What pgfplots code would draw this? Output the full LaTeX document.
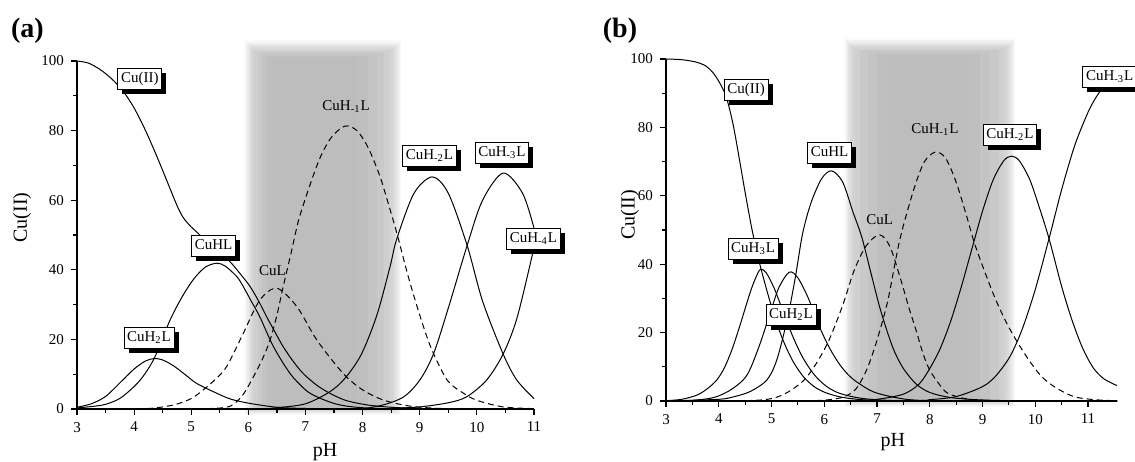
\documentclass[border=0pt]{standalone}
\usepackage{fontspec}
\setmainfont{Liberation Serif}
\usepackage{pgfplots}
\pgfplotsset{compat=1.18}
\usetikzlibrary{shadows}

\pgfplotsset{
  myax/.style={
    scale only axis,
    axis lines=left,
    axis line style={-, line width=0.75pt},
    tick align=outside,
    ymin=0, ymax=100,
    ytick={0,20,...,100},
    minor y tick num=1,
    xtick={3,...,11},
    minor x tick num=1,
    major tick length=3pt, minor tick length=1.8pt,
    tick style={black, line width=0.6pt},
    ticklabel style={font=\fontsize{7.5}{9}\selectfont},
    /pgf/number format/assume math mode=true,
    xlabel={pH}, ylabel={Cu(II)},
    label style={font=\fontsize{8.7}{10}\selectfont},
    axis on top,
    clip=false,
    cycle list={{black, mark=none}},
    every axis plot/.append style={black, line width=0.5pt, smooth, mark=none},
  },
}
\tikzset{
  lbl/.style={draw=black, line width=0.4pt, fill=white, inner xsep=1.6pt, inner ysep=1.8pt,
    text height=5.3pt, text depth=1.6pt, font=\fontsize{7.5}{9}\selectfont,
    drop shadow={shadow xshift=2.3pt, shadow yshift=-2.3pt, fill=black, opacity=1}},
  txt/.style={inner sep=0pt, font=\fontsize{7.5}{9}\selectfont},
  dsh/.style={dash pattern=on 3pt off 2pt},
}

\begin{document}
\begin{tikzpicture}[x=1pt,y=1pt]

% ---------------- panel (a) ----------------
\begin{axis}[myax,
  at={(38.5pt,-204.5pt)}, anchor=south west,
  width=228.5pt, height=174pt,
  xmin=3, xmax=11,
  every axis y label/.style={at={(axis description cs:-0.12,0.55)}, rotate=90, anchor=center},
  every axis x label/.style={at={(axis description cs:0.543,-0.124)}, anchor=center},
]
\fill[black!2]  (axis cs:5.930,-1.8) rectangle (axis cs:8.680,106);
\fill[black!5]  (axis cs:5.955,-1.5) rectangle (axis cs:8.655,105.5);
\fill[black!8]  (axis cs:5.980,-1.2) rectangle (axis cs:8.630,105);
\fill[black!11] (axis cs:6.005,-0.9) rectangle (axis cs:8.600,104.5);
\fill[black!14] (axis cs:6.030,-0.6) rectangle (axis cs:8.570,104);
\fill[black!17] (axis cs:6.060,-0.4) rectangle (axis cs:8.530,103.5);
\fill[black!19] (axis cs:6.100,-0.2) rectangle (axis cs:8.470,103);
\fill[black!21] (axis cs:6.160,0) rectangle (axis cs:8.380,102.5);
\fill[black!23] (axis cs:6.240,0) rectangle (axis cs:8.250,102);
\fill[black!25] (axis cs:6.330,0) rectangle (axis cs:8.100,101.5);
\fill[black!26] (axis cs:6.430,0) rectangle (axis cs:7.900,101);

% Cu(II)
\addplot[black] coordinates {(3.0,100)(3.2,99.4)(3.4,97.6)(3.6,95)(3.8,91.5)(4.0,86.5)(4.2,80)(4.4,72.5)(4.6,64.5)(4.75,58.5)(4.86,55)(5.0,52.3)(5.12,50.5)(5.3,47.2)(5.5,44.8)(5.68,42.3)(5.85,39)(6.03,35.2)(6.18,31)(6.32,26.5)(6.47,22)(6.61,17.9)(6.78,13.8)(6.96,10.2)(7.2,6.8)(7.43,4.5)(7.7,2.5)(8.07,1.2)(8.5,0.5)(9,0.15)(9.5,0)(11,0)};
% CuH2L
\addplot[black] coordinates {(3.0,0.5)(3.25,1.5)(3.5,3.6)(3.75,7.5)(4.0,11.5)(4.2,13.8)(4.35,14.5)(4.5,14.1)(4.7,12.3)(4.9,9.8)(5.1,7.3)(5.45,4.5)(5.7,2.8)(6.03,1.6)(6.5,0.5)(7.0,0.15)(8.0,0)(11,0)};
% CuHL
\addplot[black] coordinates {(3.0,0.3)(3.4,1.0)(3.6,1.9)(3.8,3.6)(4.1,8.2)(4.35,14.5)(4.63,25.6)(4.85,32.5)(5.05,37.5)(5.25,40.8)(5.45,41.9)(5.6,41)(5.8,38)(5.91,35.2)(6.05,31)(6.2,26.5)(6.44,17.9)(6.73,10.2)(7.0,5.5)(7.2,3.5)(7.5,1.6)(7.78,0.7)(8.2,0.2)(9,0)(11,0)};
% CuL
\addplot[dsh] coordinates {(3.0,0)(3.8,0)(4.3,0.2)(4.7,1.2)(5.0,3)(5.21,5.5)(5.42,8.5)(5.62,12.2)(5.91,21.7)(6.2,31.3)(6.5,34.7)(6.85,29.4)(7.2,19.8)(7.66,10.2)(8.0,5.5)(8.36,2.6)(8.8,0.9)(9.3,0.2)(10,0)(11,0)};
% CuH-1L
\addplot[dsh] coordinates {(3,0)(4.8,0)(5.3,0.1)(5.68,0.8)(5.9,4)(6.09,9.3)(6.25,14.5)(6.38,19.8)(6.5,27)(6.61,35.2)(6.75,45)(6.88,54.3)(7.05,63)(7.25,72)(7.45,78)(7.69,81.3)(7.9,80)(8.1,75)(8.3,67)(8.45,59)(8.6,50.5)(8.8,38)(9.0,27)(9.2,17.5)(9.48,8.3)(9.76,4.6)(10.0,2.5)(10.46,0.6)(11,0.1)};
% CuH-2L
\addplot[black] coordinates {(3,0)(6.0,0)(6.5,0.4)(7.0,1.5)(7.43,5.0)(7.7,9)(7.98,15.8)(8.25,27)(8.48,40.9)(8.6,49)(8.9,62)(9.22,66.7)(9.5,62)(9.83,47)(10.1,31)(10.46,15.8)(10.7,8.3)(11.0,3.0)};
% CuH-3L
\addplot[black] coordinates {(3,0)(7.5,0)(8.2,0.6)(8.7,3.3)(9.0,8.3)(9.24,15.8)(9.5,29)(9.83,47)(10.1,60)(10.46,67.8)(10.8,62)(11.0,52)};
% CuH-4L
\addplot[black] coordinates {(3,0)(8.0,0)(8.5,0.2)(9.0,0.6)(9.5,1.8)(9.82,3.5)(10.17,8.3)(10.46,15.8)(10.7,26)(10.96,43.5)(11.0,46.5)};

\node[lbl] at (axis cs:4.10,94.8) {Cu(II)};
\node[lbl] at (axis cs:5.39,46.8) {CuHL};
\node[lbl] at (axis cs:4.26,20.5) {CuH\textsubscript{2}L};
\node[txt] at (axis cs:6.42,39.7) {CuL};
\node[txt] at (axis cs:7.71,86.8) {CuH\textsubscript{-1}L};
\node[lbl] at (axis cs:9.17,72.7) {CuH\textsubscript{-2}L};
\node[lbl] at (axis cs:10.44,73.6) {CuH\textsubscript{-3}L};
\node[lbl] at (axis cs:10.99,49) {CuH\textsubscript{-4}L};
\end{axis}

% ---------------- panel (b) ----------------
\begin{axis}[myax,
  at={(333pt,-200.5pt)}, anchor=south west,
  width=225.5pt, height=171pt,
  xmin=3, xmax=11.55,
  x axis line style={line width=1.2pt},
  every axis y label/.style={at={(axis description cs:-0.08,0.544)}, rotate=90, anchor=center},
  every axis x label/.style={at={(axis description cs:0.503,-0.12)}, anchor=center},
]
\fill[black!2]  (axis cs:6.380,-1.8) rectangle (axis cs:9.620,106);
\fill[black!5]  (axis cs:6.405,-1.5) rectangle (axis cs:9.595,105.5);
\fill[black!8]  (axis cs:6.430,-1.2) rectangle (axis cs:9.570,105);
\fill[black!11] (axis cs:6.455,-0.9) rectangle (axis cs:9.540,104.5);
\fill[black!14] (axis cs:6.480,-0.6) rectangle (axis cs:9.510,104);
\fill[black!17] (axis cs:6.520,-0.4) rectangle (axis cs:9.470,103.5);
\fill[black!19] (axis cs:6.580,-0.2) rectangle (axis cs:9.410,103);
\fill[black!21] (axis cs:6.680,0) rectangle (axis cs:9.310,102.5);
\fill[black!23] (axis cs:6.820,0) rectangle (axis cs:9.150,102);
\fill[black!25] (axis cs:7.000,0) rectangle (axis cs:8.950,101.5);
\fill[black!26] (axis cs:7.200,0) rectangle (axis cs:8.720,101);

% Cu(II)
\addplot[black] coordinates {(3.0,100)(3.3,99.8)(3.57,99.1)(3.75,98)(3.88,96.2)(4.0,93.5)(4.14,89)(4.27,81)(4.39,70.8)(4.5,61)(4.64,49.4)(4.79,39.3)(5.0,27.6)(5.2,18.5)(5.4,11.8)(5.6,7.2)(5.8,4.3)(6.0,2.6)(6.3,1.2)(6.7,0.4)(7.2,0.1)(8,0)(11.55,0)};
% CuH3L
\addplot[black] coordinates {(3.0,0.1)(3.3,0.5)(3.6,1.8)(3.8,3.8)(3.96,6.1)(4.1,9.5)(4.25,15)(4.4,22)(4.59,31.5)(4.7,36)(4.79,38.5)(4.9,37.5)(5.05,33)(5.2,27)(5.4,19)(5.6,12.5)(5.82,7.5)(6.05,4.2)(6.3,2.2)(6.7,0.8)(7.2,0.2)(8,0)(11.55,0)};
% CuH2L
\addplot[black] coordinates {(3.0,0)(3.5,0.2)(3.9,1.0)(4.2,3)(4.46,6.1)(4.6,9.5)(4.8,17.5)(5.0,27)(5.15,33.5)(5.34,37.7)(5.5,36)(5.7,30)(5.9,22)(6.1,15.5)(6.3,10.5)(6.5,7)(6.75,4.2)(7.0,2.3)(7.5,0.6)(8.0,0.1)(9,0)(11.55,0)};
% CuHL
\addplot[black] coordinates {(3.0,0)(4.0,0.5)(4.3,1.3)(4.6,2.8)(4.91,6.1)(5.1,12)(5.3,24)(5.45,36)(5.59,49)(5.75,58)(5.95,65)(6.14,67.3)(6.35,64)(6.55,55)(6.71,48)(6.9,36.5)(7.05,27.5)(7.2,20)(7.33,14.5)(7.5,9.5)(7.74,5)(8.0,2.5)(8.4,1.0)(9.0,0.3)(10,0)(11.55,0)};
% CuL
\addplot[dsh] coordinates {(3,0)(4.5,0.1)(5.0,0.7)(5.3,2.5)(5.61,6)(5.85,11)(6.09,17.8)(6.35,28)(6.57,38.3)(6.8,45.5)(7.05,48.6)(7.25,45)(7.46,35)(7.6,27.5)(7.74,20.7)(7.87,14)(8.0,9)(8.2,4.5)(8.35,2.2)(8.7,0.6)(9.2,0.1)(10,0)(11.55,0)};
% CuH-1L
\addplot[dsh] coordinates {(3,0)(5.5,0)(5.8,0.1)(6.1,0.4)(6.37,1.2)(6.6,3.5)(6.8,9)(6.98,16.8)(7.2,29)(7.43,47)(7.7,62)(7.9,70)(8.11,72.8)(8.3,71)(8.5,64)(8.7,54)(8.85,46)(9.05,37.5)(9.24,30)(9.45,23)(9.65,17.5)(9.9,11.5)(10.13,7)(10.4,3.8)(10.75,1.2)(11.2,0.3)(11.55,0.1)};
% CuH-2L
\addplot[black] coordinates {(3,0)(6.5,0.1)(7.0,0.5)(7.5,2.0)(7.8,5)(8.0,9.5)(8.2,15.4)(8.4,23.5)(8.6,33.5)(8.81,45.1)(9.0,55.5)(9.2,64.6)(9.4,70.2)(9.55,71.6)(9.7,70.2)(9.9,64.6)(10.1,55.5)(10.27,47)(10.5,33.5)(10.7,23.5)(10.9,15.4)(11.1,9.7)(11.3,6.5)(11.55,4.5)};
% CuH-3L
\addplot[black] coordinates {(3,0)(7.5,0.1)(8.0,0.4)(8.5,1.3)(9.0,4.2)(9.25,7.3)(9.52,13)(9.75,20.9)(10.0,32.6)(10.27,48)(10.5,61.8)(10.75,74.8)(11.0,84.4)(11.16,89)(11.3,91.8)(11.55,95.4)};

\node[lbl] at (axis cs:4.52,91) {Cu(II)};
\node[lbl] at (axis cs:6.10,72.5) {CuHL};
\node[lbl] at (axis cs:4.65,44.6) {CuH\textsubscript{3}L};
\node[lbl] at (axis cs:5.37,25.1) {CuH\textsubscript{2}L};
\node[txt] at (axis cs:7.05,53) {CuL};
\node[txt] at (axis cs:8.10,79.3) {CuH\textsubscript{-1}L};
\node[lbl] at (axis cs:9.52,77.9) {CuH\textsubscript{-2}L};
\node[lbl] at (axis cs:11.41,94.7) {CuH\textsubscript{-3}L};
\end{axis}

\node[font=\fontsize{14}{16}\selectfont\bfseries] at (13.75pt,-15.5pt) {(a)};
\node[font=\fontsize{14}{16}\selectfont\bfseries] at (310pt,-15.5pt) {(b)};

\pgfresetboundingbox
\useasboundingbox (0pt,0pt) rectangle (567.5pt,-230.5pt);
\end{tikzpicture}
\end{document}
